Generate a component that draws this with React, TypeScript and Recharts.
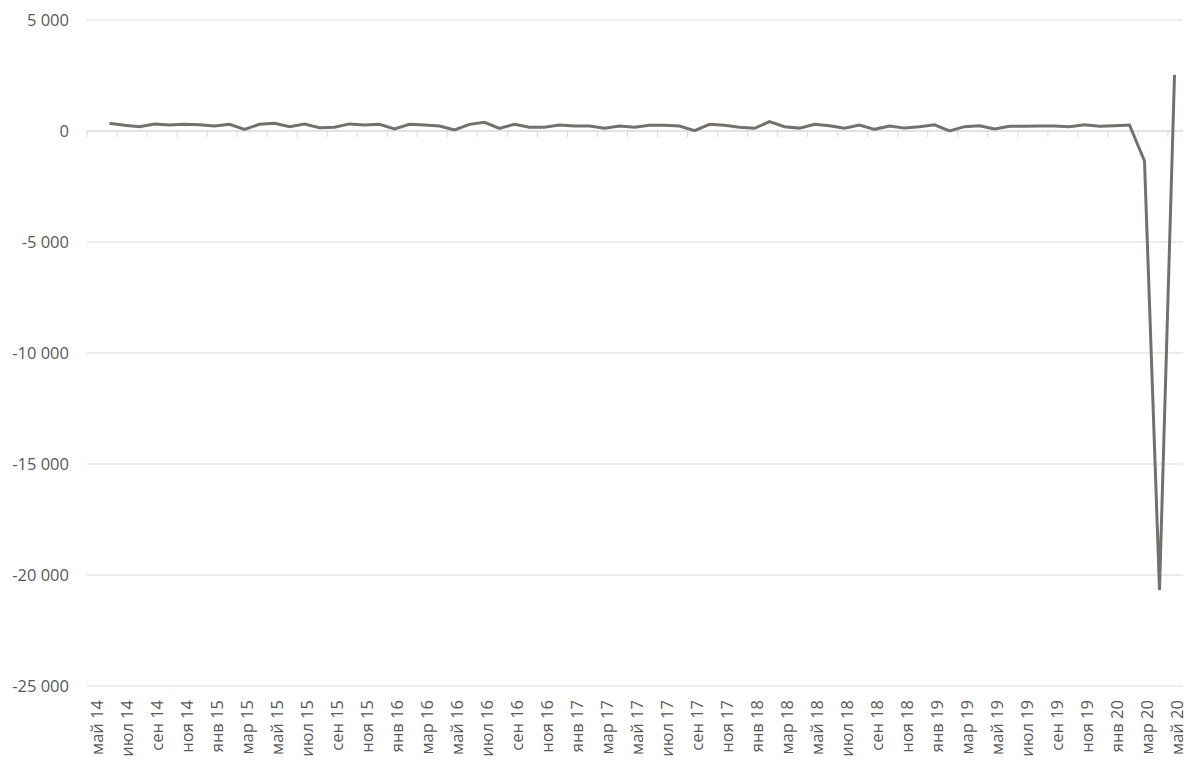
import { LineChart, Line, XAxis, YAxis, CartesianGrid, ReferenceLine } from 'recharts';

const monthNames = ['янв', 'фев', 'мар', 'апр', 'май', 'июн', 'июл', 'авг', 'сен', 'окт', 'ноя', 'дек'];

// май 14 .. май 20, one entry per month
const months: string[] = [];
for (let y = 14; y <= 20; y++) {
  for (let m = 0; m < 12; m++) {
    if ((y === 14 && m < 4) || (y === 20 && m > 4)) continue;
    months.push(`${monthNames[m]} ${y}`);
  }
}

// first month has no value
const values: (number | null)[] = [
  null, 350, 255, 195, 315, 270, 300, 280, 225, 300, 75, 300,
  350, 195, 315, 150, 170, 320, 265, 300, 90, 300, 265, 225,
  45, 300, 390, 120, 300, 170, 170, 265, 225, 225, 130, 225,
  170, 255, 255, 225, 15, 300, 255, 170, 120, 420, 195, 130,
  300, 240, 120, 265, 75, 225, 130, 195, 280, 0, 195, 240,
  90, 210, 210, 225, 225, 195, 280, 210, 240, 270, -1350, -20670,
  2520,
];

const yTicks = [5000, 0, -5000, -10000, -15000, -20000, -25000];

const data = months.map((month, i) => ({ month, value: values[i] }));

const FONT = '"Open Sans", sans-serif';
const GRID = '#d9d9d9';
const TEXT = '#595959';
const HALF = 7.5; // half a category, so points sit in the middle of their slot

const fmt = (v: number) =>
  (v < 0 ? '-' : '') + String(Math.abs(v)).replace(/\B(?=(\d{3})+(?!\d))/g, ' ');

function MonthTick(props: any) {
  const { x, payload } = props;
  return (
    <text
      transform={`translate(${x + 1.5},700) rotate(-90)`}
      textAnchor="end"
      dominantBaseline="central"
      fill={TEXT}
      fontSize={16.5}
      fontFamily={FONT}
    >
      {payload.value}
    </text>
  );
}

// zero axis with tick marks on every second category boundary
function ZeroAxis(props: any) {
  let { x1, x2 } = props;
  const { y1 } = props;
  let step = (x2 - x1) / months.length;
  if (x2 - x1 < 1090) {
    // endpoints are the padded range: first/last category centres
    step = (x2 - x1) / (months.length - 1);
    x1 -= step / 2;
    x2 += step / 2;
  }
  const marks = [];
  for (let i = 0; i < months.length; i += 2) {
    const x = x1 + i * step;
    marks.push(<line key={i} x1={x} x2={x} y1={y1} y2={y1 + 6} stroke={GRID} strokeWidth={1} />);
  }
  return (
    <g>
      <line x1={x1} x2={x2} y1={y1} y2={y1} stroke={GRID} strokeWidth={1} />
      {marks}
    </g>
  );
}

export default function App() {
  return (
    <div style={{ position: 'absolute', left: 0, top: 0, background: '#fff' }}>
      <LineChart width={1200} height={768} data={data} margin={{ top: 20, right: 17, bottom: 0, left: 0 }}>
        <CartesianGrid vertical={false} stroke={GRID} />
        <XAxis
          dataKey="month"
          interval={1}
          height={82}
          padding={{ left: HALF, right: HALF + 1 }}
          axisLine={false}
          tickLine={false}
          tick={<MonthTick />}
        />
        <YAxis
          width={87}
          domain={[-25000, 5000]}
          ticks={yTicks}
          axisLine={false}
          tickLine={false}
          tickSize={0}
          tickMargin={18}
          tickFormatter={fmt}
          tick={{ fill: TEXT, fontSize: 16.5, fontFamily: FONT }}
        />
        <ReferenceLine y={0} shape={<ZeroAxis />} />
        <Line
          type="linear"
          dataKey="value"
          stroke="#747070"
          strokeWidth={3}
          dot={false}
          connectNulls={false}
          isAnimationActive={false}
        />
      </LineChart>
    </div>
  );
}
